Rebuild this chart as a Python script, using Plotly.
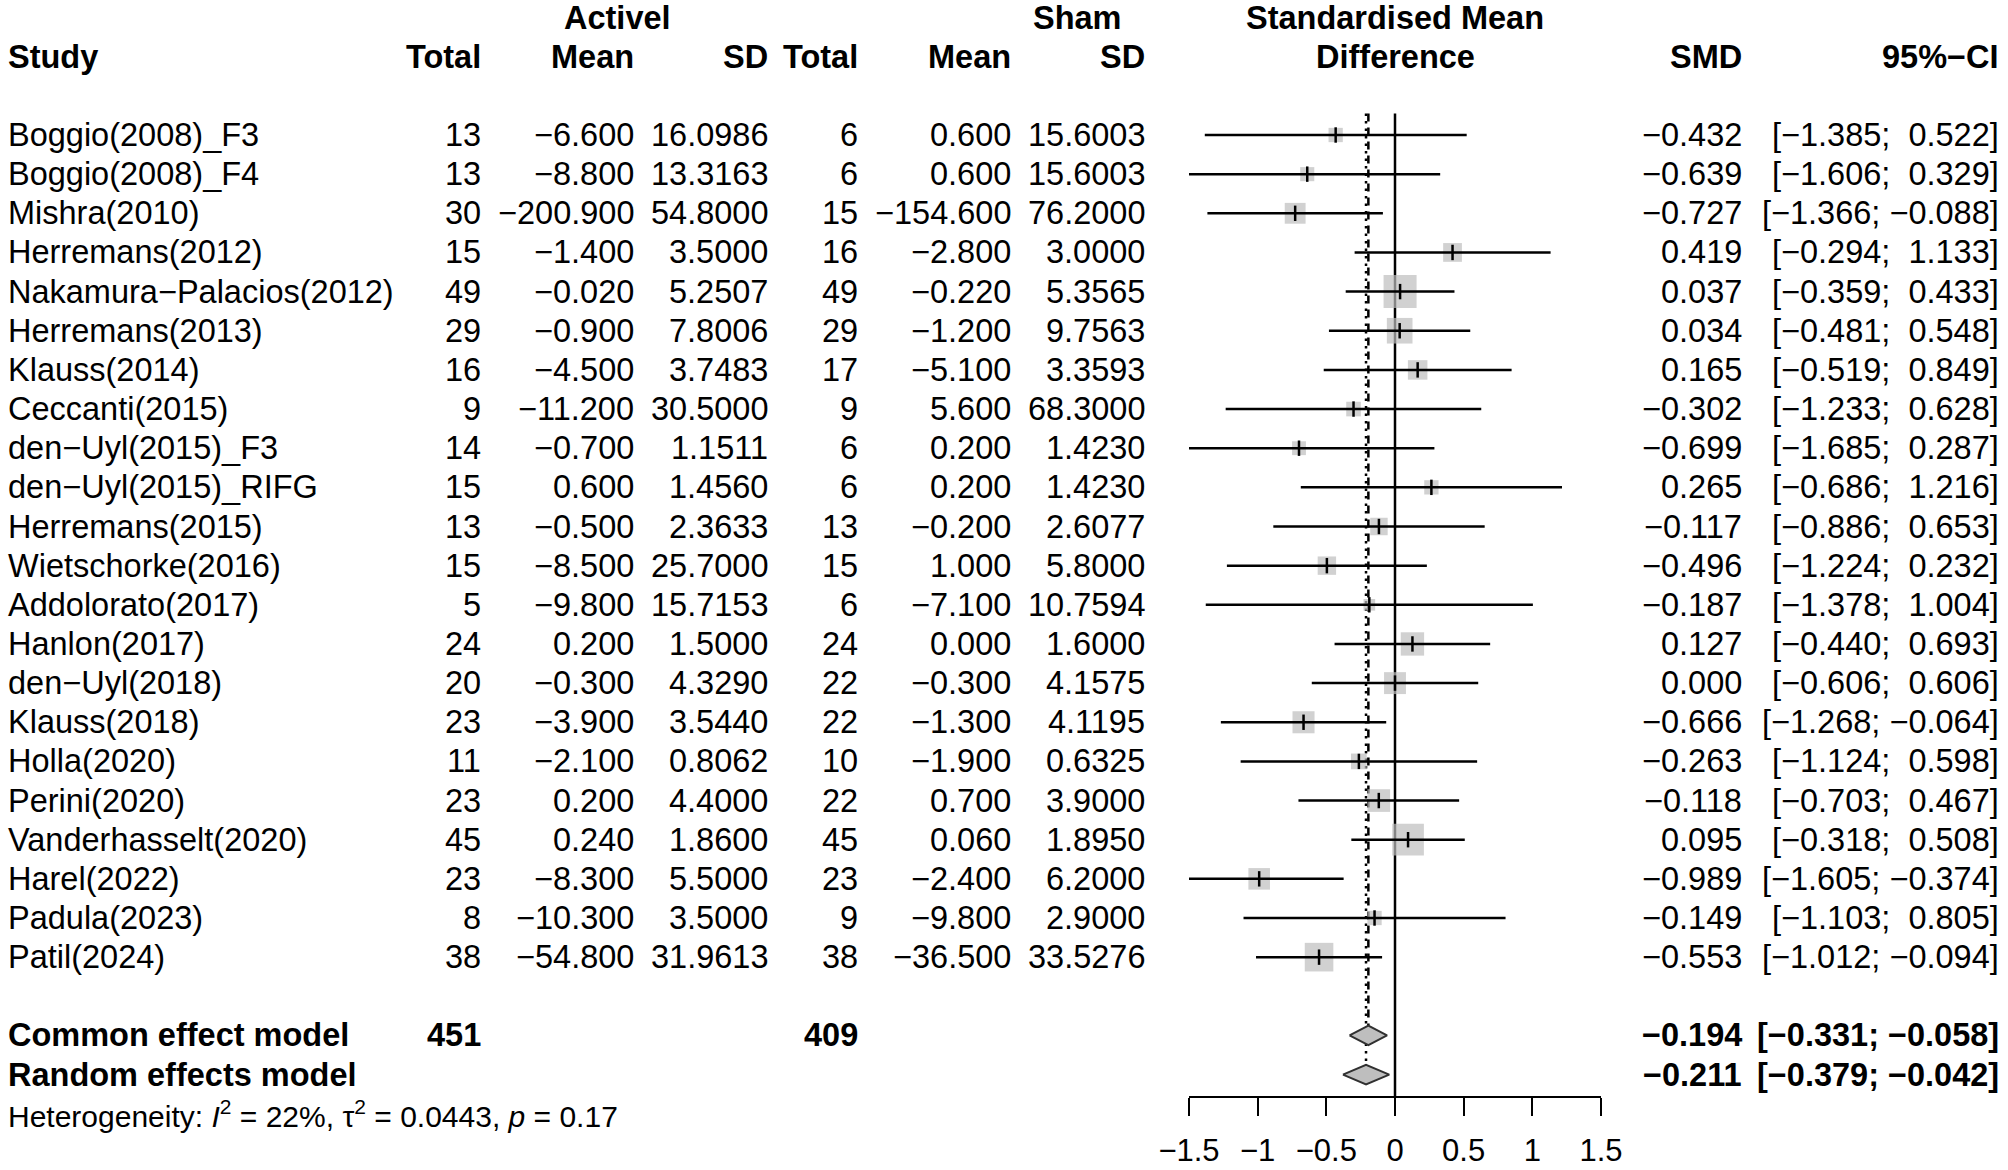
import plotly.graph_objects as go

# study-level data
studies = ["Boggio(2008)_F3", "Boggio(2008)_F4", "Mishra(2010)", "Herremans(2012)",
           "Nakamura−Palacios(2012)", "Herremans(2013)", "Klauss(2014)", "Ceccanti(2015)",
           "den−Uyl(2015)_F3", "den−Uyl(2015)_RIFG", "Herremans(2015)", "Wietschorke(2016)",
           "Addolorato(2017)", "Hanlon(2017)", "den−Uyl(2018)", "Klauss(2018)", "Holla(2020)",
           "Perini(2020)", "Vanderhasselt(2020)", "Harel(2022)", "Padula(2023)", "Patil(2024)"]
n_active = [13, 13, 30, 15, 49, 29, 16, 9, 14, 15, 13, 15, 5, 24, 20, 23, 11, 23, 45, 23, 8, 38]
mean_active = [-6.6, -8.8, -200.9, -1.4, -0.02, -0.9, -4.5, -11.2, -0.7, 0.6, -0.5, -8.5,
               -9.8, 0.2, -0.3, -3.9, -2.1, 0.2, 0.24, -8.3, -10.3, -54.8]
sd_active = [16.0986, 13.3163, 54.8, 3.5, 5.2507, 7.8006, 3.7483, 30.5, 1.1511, 1.456, 2.3633,
             25.7, 15.7153, 1.5, 4.329, 3.544, 0.8062, 4.4, 1.86, 5.5, 3.5, 31.9613]
n_sham = [6, 6, 15, 16, 49, 29, 17, 9, 6, 6, 13, 15, 6, 24, 22, 22, 10, 22, 45, 23, 9, 38]
mean_sham = [0.6, 0.6, -154.6, -2.8, -0.22, -1.2, -5.1, 5.6, 0.2, 0.2, -0.2, 1.0,
             -7.1, 0.0, -0.3, -1.3, -1.9, 0.7, 0.06, -2.4, -9.8, -36.5]
sd_sham = [15.6003, 15.6003, 76.2, 3.0, 5.3565, 9.7563, 3.3593, 68.3, 1.423, 1.423, 2.6077,
           5.8, 10.7594, 1.6, 4.1575, 4.1195, 0.6325, 3.9, 1.895, 6.2, 2.9, 33.5276]
smd = [-0.432, -0.639, -0.727, 0.419, 0.037, 0.034, 0.165, -0.302, -0.699, 0.265, -0.117,
       -0.496, -0.187, 0.127, 0.000, -0.666, -0.263, -0.118, 0.095, -0.989, -0.149, -0.553]
ci_low = [-1.385, -1.606, -1.366, -0.294, -0.359, -0.481, -0.519, -1.233, -1.685, -0.686,
          -0.886, -1.224, -1.378, -0.440, -0.606, -1.268, -1.124, -0.703, -0.318, -1.605,
          -1.103, -1.012]
ci_high = [0.522, 0.329, -0.088, 1.133, 0.433, 0.548, 0.849, 0.628, 0.287, 1.216, 0.653,
           0.232, 1.004, 0.693, 0.606, -0.064, 0.598, 0.467, 0.508, -0.374, 0.805, -0.094]

# pooled estimates
models = ["Common effect model", "Random effects model"]
model_n_active = [451, None]
model_n_sham = [409, None]
model_smd = [-0.194, -0.211]
model_low = [-0.331, -0.379]
model_high = [-0.058, -0.042]
het_i2 = 22
het_tau2 = 0.0443
het_p = 0.17

axis_ticks = [-1.5, -1, -0.5, 0, 0.5, 1, 1.5]

# page geometry (px)
W, H = 2008, 1170
ROW0, ROWH = 135, 39.15
AXIS_Y = 1097
FONT = "Liberation Sans, Arial, sans-serif"
FS = 32.5


def px_to_row(p):
    return (p - ROW0) / ROWH


def fmt(v, d):
    return f"{v:.{d}f}".replace("-", "−")


def fmt_ci(lo, hi):
    pad_lo = "" if lo < 0 else "\u00a0"
    pad_hi = "" if hi < 0 else "\u00a0"
    return f"[{pad_lo}{fmt(lo, 3)}; {pad_hi}{fmt(hi, 3)}]"


n = len(studies)
rows = list(range(n))
model_rows = [n + 1, n + 2]
het_row = n + 3

fig = go.Figure()

# square sizes from inverse-variance weights
se = [(h - l) / (2 * 1.959964) for l, h in zip(ci_low, ci_high)]
w = [1 / s ** 2 for s in se]
wmax = max(w)
sizes = [32 * (x / wmax) ** 0.5 + 1 for x in w]

fig.add_trace(go.Scatter(x=smd, y=rows, mode="markers",
                         marker=dict(symbol="square", size=sizes, color="#BEBEBE",
                                     line=dict(width=0)),
                         hoverinfo="skip"))

ci_x, ci_y = [], []
for i in rows:
    ci_x += [ci_low[i], ci_high[i], None]
    ci_y += [i, i, None]
fig.add_trace(go.Scatter(x=ci_x, y=ci_y, mode="lines",
                         line=dict(color="black", width=2.5), hoverinfo="skip"))

fig.add_trace(go.Scatter(x=smd, y=rows, mode="markers",
                         marker=dict(symbol="line-ns", size=11,
                                     line=dict(color="black", width=2.5)),
                         hoverinfo="skip"))

# diamonds
for k, r in enumerate(model_rows):
    fig.add_trace(go.Scatter(
        x=[model_low[k], model_smd[k], model_high[k], model_smd[k], model_low[k]],
        y=[r, r - 0.25, r, r + 0.25, r],
        mode="lines", fill="toself", fillcolor="#BEBEBE",
        line=dict(color="#303030", width=2), hoverinfo="skip"))

# reference lines
top = -0.55
fig.add_shape(type="line", x0=0, x1=0, y0=top, y1=px_to_row(AXIS_Y), xref="x", yref="y",
              line=dict(color="black", width=2.5), layer="below")
fig.add_shape(type="line", x0=model_smd[0], x1=model_smd[0], y0=top, y1=model_rows[0] - 0.25,
              xref="x", yref="y", line=dict(color="black", width=2.5, dash="8px,6px"),
              layer="below")
fig.add_shape(type="line", x0=model_smd[1], x1=model_smd[1], y0=top, y1=model_rows[1] - 0.25,
              xref="x", yref="y", line=dict(color="black", width=2.5, dash="2.5px,5px"),
              layer="below")


def txt(x_px, row, text, anchor="right", size=FS):
    fig.add_annotation(x=x_px / W, y=row, xref="paper", yref="y", text=text,
                       xanchor=anchor, yanchor="middle", showarrow=False,
                       font=dict(family=FONT, size=size, color="black"))


COL = dict(study=6, ne=483, me=636, se=770, nc=860, mc=1013, sc=1147, smd=1744, ci=2001)

# headers
txt(617, -3, "<b>Activel</b>", "center")
txt(1077, -3, "<b>Sham</b>", "center")
txt(1395, -3, "<b>Standardised Mean</b>", "center")
txt(COL["study"], -2, "<b>Study</b>", "left")
for key, lab in [("ne", "Total"), ("me", "Mean"), ("se", "SD"), ("nc", "Total"),
                 ("mc", "Mean"), ("sc", "SD"), ("smd", "SMD"), ("ci", "95%−CI")]:
    txt(COL[key], -2, f"<b>{lab}</b>")
txt(1395, -2, "<b>Difference</b>", "center")

# study rows
for i in rows:
    txt(COL["study"], i, studies[i], "left")
    txt(COL["ne"], i, str(n_active[i]))
    txt(COL["me"], i, fmt(mean_active[i], 3))
    txt(COL["se"], i, fmt(sd_active[i], 4))
    txt(COL["nc"], i, str(n_sham[i]))
    txt(COL["mc"], i, fmt(mean_sham[i], 3))
    txt(COL["sc"], i, fmt(sd_sham[i], 4))
    txt(COL["smd"], i, fmt(smd[i], 3))
    txt(COL["ci"], i, fmt_ci(ci_low[i], ci_high[i]))

# model rows
for k, r in enumerate(model_rows):
    txt(COL["study"], r, f"<b>{models[k]}</b>", "left")
    if model_n_active[k] is not None:
        txt(COL["ne"], r, f"<b>{model_n_active[k]}</b>")
    if model_n_sham[k] is not None:
        txt(COL["nc"], r, f"<b>{model_n_sham[k]}</b>")
    txt(COL["smd"], r, f"<b>{fmt(model_smd[k], 3)}</b>")
    txt(COL["ci"], r, f"<b>{fmt_ci(model_low[k], model_high[k])}</b>")

txt(COL["study"], het_row,
    f"Heterogeneity: <i>I</i><sup>2</sup> = {het_i2}%, τ<sup>2</sup> = {het_tau2}, "
    f"<i>p</i> = {het_p}", "left", size=30)

fig.update_layout(
    width=W, height=H,
    margin=dict(l=0, r=0, t=0, b=0, autoexpand=False),
    paper_bgcolor="white", plot_bgcolor="white",
    showlegend=False,
    font=dict(family=FONT, size=FS, color="black"),
    xaxis=dict(domain=[1189 / W, 1601 / W], range=[-1.5, 1.5],
               tickvals=axis_ticks, ticks="outside", ticklen=18, tickwidth=2,
               tickcolor="black", showline=True, linewidth=2, linecolor="black",
               showgrid=False, zeroline=False, anchor="free", automargin=False,
               position=(H - AXIS_Y) / H, ticklabelstandoff=8,
               tickfont=dict(family=FONT, size=31, color="black")),
    yaxis=dict(domain=[0, 1], range=[px_to_row(H), px_to_row(0)], visible=False),
)

# drop the page's default body margin so the figure sits at the window's corner
fig.write_html("out.html", config={"displayModeBar": False},
               post_script="document.body.style.margin = '0';")
